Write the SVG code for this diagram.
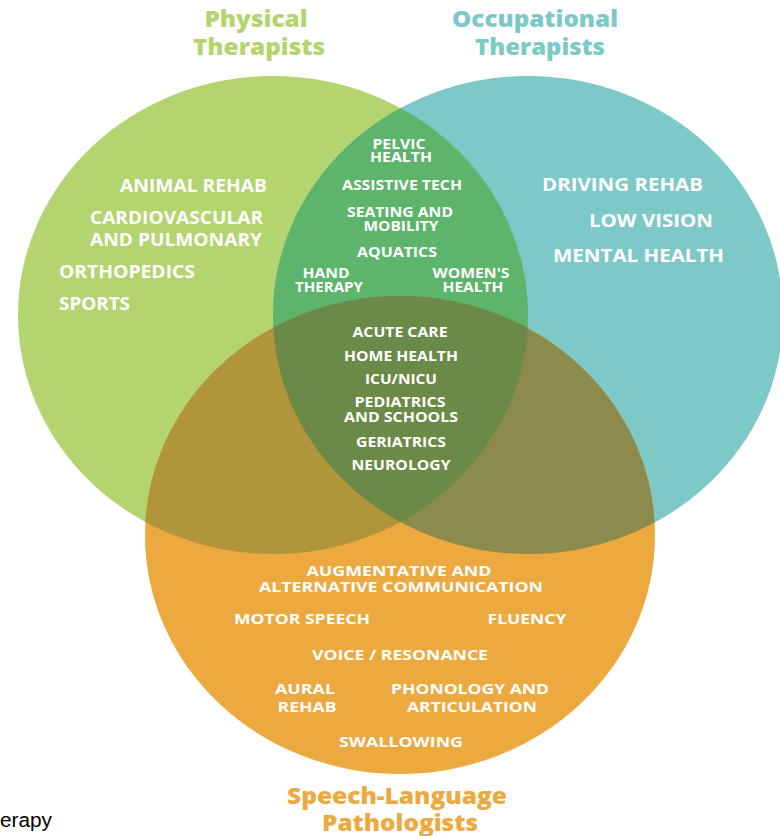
<svg xmlns="http://www.w3.org/2000/svg" width="780" height="836" viewBox="0 0 780 836">
  <style>
    .lbl { font-family: "Open Sans", "Liberation Sans", sans-serif; font-weight: 700; fill: #ffffff; }
    .big { font-size: 17px; }
    .mid { font-size: 14px; }
    .org { font-size: 15px; }
    .c { text-anchor: middle; }
    .title { font-family: "Open Sans", "Liberation Sans", sans-serif; font-weight: 800; font-size: 23px; text-anchor: middle; }
  </style>
  <defs>
    <clipPath id="clipG"><ellipse cx="273" cy="315" rx="255" ry="239"/></clipPath>
    <clipPath id="clipT"><ellipse cx="528" cy="315" rx="255" ry="239"/></clipPath>
  </defs>
  <rect width="780" height="836" fill="#ffffff"/>

  <g id="sets">
    <ellipse id="set-pt" cx="273" cy="315" rx="255" ry="239" fill="#b4d46f"/>
    <ellipse id="set-ot" cx="528" cy="315" rx="255" ry="239" fill="#7dc9c8"/>
    <ellipse id="set-slp" cx="400" cy="535" rx="255" ry="239" fill="#eca940"/>
    <g id="pt-ot" clip-path="url(#clipG)">
      <ellipse cx="528" cy="315" rx="255" ry="239" fill="#5db56b"/>
    </g>
    <g id="pt-slp" clip-path="url(#clipG)">
      <ellipse cx="400" cy="535" rx="255" ry="239" fill="#b0953b"/>
    </g>
    <g id="ot-slp" clip-path="url(#clipT)">
      <ellipse cx="400" cy="535" rx="255" ry="239" fill="#8d8b4b"/>
    </g>
    <g id="all" clip-path="url(#clipT)">
      <g clip-path="url(#clipG)">
        <ellipse cx="400" cy="535" rx="255" ry="239" fill="#6b8a47"/>
      </g>
    </g>
  </g>

  <g id="titles">
    <text class="title" x="256" y="27" fill="#b4d46f" textLength="103" lengthAdjust="spacingAndGlyphs">Physical</text>
    <text class="title" x="259" y="55" fill="#b4d46f" textLength="132" lengthAdjust="spacingAndGlyphs">Therapists</text>
    <text class="title" x="535" y="27" fill="#7dc9c8" textLength="166" lengthAdjust="spacingAndGlyphs">Occupational</text>
    <text class="title" x="540" y="55" fill="#7dc9c8" textLength="130" lengthAdjust="spacingAndGlyphs">Therapists</text>
    <text class="title" x="397" y="804" fill="#eca940" textLength="220" lengthAdjust="spacingAndGlyphs">Speech-Language</text>
    <text class="title" x="400" y="831" fill="#eca940" textLength="156" lengthAdjust="spacingAndGlyphs">Pathologists</text>
  </g>

  <g id="pt-labels" class="lbl big">
    <text x="120" y="192" textLength="147" lengthAdjust="spacingAndGlyphs">ANIMAL REHAB</text>
    <text x="90" y="224" textLength="173" lengthAdjust="spacingAndGlyphs">CARDIOVASCULAR</text>
    <text x="90" y="246" textLength="172" lengthAdjust="spacingAndGlyphs">AND PULMONARY</text>
    <text x="59" y="278" textLength="136" lengthAdjust="spacingAndGlyphs">ORTHOPEDICS</text>
    <text x="59" y="310" textLength="71" lengthAdjust="spacingAndGlyphs">SPORTS</text>
  </g>

  <g id="ot-labels" class="lbl big">
    <text x="542" y="191" textLength="161" lengthAdjust="spacingAndGlyphs">DRIVING REHAB</text>
    <text x="589" y="227" textLength="124" lengthAdjust="spacingAndGlyphs">LOW VISION</text>
    <text x="553" y="262" textLength="171" lengthAdjust="spacingAndGlyphs">MENTAL HEALTH</text>
  </g>

  <g id="pt-ot-labels" class="lbl mid c">
    <text x="399" y="149" textLength="53" lengthAdjust="spacingAndGlyphs">PELVIC</text>
    <text x="401" y="162" textLength="62" lengthAdjust="spacingAndGlyphs">HEALTH</text>
    <text x="402" y="190" textLength="120" lengthAdjust="spacingAndGlyphs">ASSISTIVE TECH</text>
    <text x="400" y="217" textLength="106" lengthAdjust="spacingAndGlyphs">SEATING AND</text>
    <text x="401" y="231" textLength="75" lengthAdjust="spacingAndGlyphs">MOBILITY</text>
    <text x="397" y="257" textLength="80" lengthAdjust="spacingAndGlyphs">AQUATICS</text>
    <text x="326" y="278" textLength="47" lengthAdjust="spacingAndGlyphs">HAND</text>
    <text x="329" y="292" textLength="68" lengthAdjust="spacingAndGlyphs">THERAPY</text>
    <text x="471" y="278" textLength="77" lengthAdjust="spacingAndGlyphs">WOMEN'S</text>
    <text x="473" y="292" textLength="61" lengthAdjust="spacingAndGlyphs">HEALTH</text>
  </g>

  <g id="all-labels" class="lbl mid c">
    <text x="400" y="337" textLength="95" lengthAdjust="spacingAndGlyphs">ACUTE CARE</text>
    <text x="401" y="361" textLength="114" lengthAdjust="spacingAndGlyphs">HOME HEALTH</text>
    <text x="401" y="384" textLength="72" lengthAdjust="spacingAndGlyphs">ICU/NICU</text>
    <text x="400" y="407" textLength="91" lengthAdjust="spacingAndGlyphs">PEDIATRICS</text>
    <text x="401" y="422" textLength="114" lengthAdjust="spacingAndGlyphs">AND SCHOOLS</text>
    <text x="401" y="447" textLength="90" lengthAdjust="spacingAndGlyphs">GERIATRICS</text>
    <text x="401" y="470" textLength="99" lengthAdjust="spacingAndGlyphs">NEUROLOGY</text>
  </g>

  <g id="slp-labels" class="lbl org c">
    <text x="399" y="576" textLength="185" lengthAdjust="spacingAndGlyphs">AUGMENTATIVE AND</text>
    <text x="401" y="592" textLength="284" lengthAdjust="spacingAndGlyphs">ALTERNATIVE COMMUNICATION</text>
    <text x="302" y="624" textLength="136" lengthAdjust="spacingAndGlyphs">MOTOR SPEECH</text>
    <text x="527" y="624" textLength="79" lengthAdjust="spacingAndGlyphs">FLUENCY</text>
    <text x="400" y="660" textLength="176" lengthAdjust="spacingAndGlyphs">VOICE / RESONANCE</text>
    <text x="305" y="694" textLength="60" lengthAdjust="spacingAndGlyphs">AURAL</text>
    <text x="307" y="712" textLength="59" lengthAdjust="spacingAndGlyphs">REHAB</text>
    <text x="470" y="694" textLength="158" lengthAdjust="spacingAndGlyphs">PHONOLOGY AND</text>
    <text x="472" y="712" textLength="130" lengthAdjust="spacingAndGlyphs">ARTICULATION</text>
    <text x="401" y="747" textLength="124" lengthAdjust="spacingAndGlyphs">SWALLOWING</text>
  </g>

  <text id="caption" x="0" y="827" font-family="Liberation Sans, Arial, sans-serif" font-size="20" fill="#000000" textLength="52" lengthAdjust="spacingAndGlyphs">erapy</text>
</svg>
